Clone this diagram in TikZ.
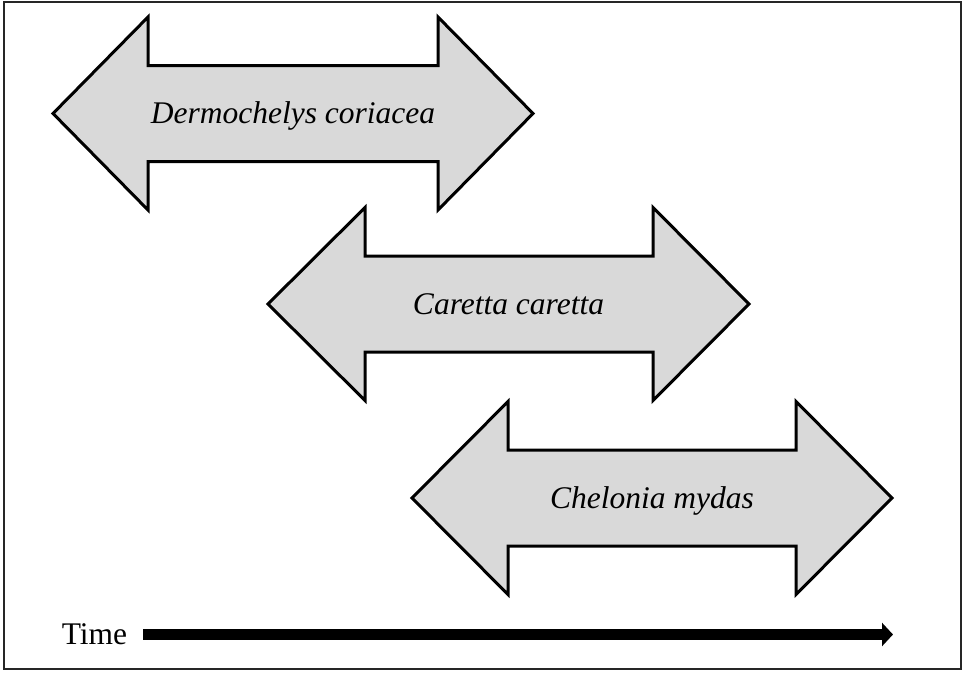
\documentclass[tikz,border=0pt]{standalone}
\usepackage{fontspec}
\setmainfont{Liberation Serif}
\usetikzlibrary{arrows.meta}
\definecolor{spanfill}{HTML}{D9D9D9}
\tikzset{
  spanshape/.style={draw=black, fill=spanfill, line width=3pt, line join=miter},
  spanlabel/.style={anchor=base, inner sep=0pt, font=\fontsize{31.5}{36}\selectfont\itshape},
  timelabel/.style={anchor=base, inner sep=0pt, font=\fontsize{31.5}{36}\selectfont},
  timearrow/.style={line width=11pt, -{Triangle[length=11pt,width=23pt]}},
  frame/.style={draw=black!85, line width=2pt}
}
\newcommand\spanarrow[7]{%
  \draw[spanshape] (#2,#6) -- (#3,#6-96.5) -- (#3,#6-48) -- (#4,#6-48) -- (#4,#6-96.5)
    -- (#5,#6) -- (#4,#6+96.5) -- (#4,#6+48) -- (#3,#6+48) -- (#3,#6+96.5) -- cycle;
  \node[spanlabel] (#1) at ({(#2+#5)/2},#6+10) {#7};%
}
\begin{document}
\begin{tikzpicture}[x=1pt,y=-1pt]
  \useasboundingbox (0,0) rectangle (964,673);
  \draw[frame] (4,1.5) rectangle (960.5,668.5);
  \spanarrow{dermo}{53}{148}{438}{533}{113.5}{Dermochelys coriacea}
  \spanarrow{caretta}{268}{365}{653}{749}{304}{Caretta caretta}
  \spanarrow{chelonia}{412}{508}{796}{892}{498}{Chelonia mydas}
  \node[timelabel] (time) at (94.5,644) {Time};
  \coordinate (tend) at (893,634.5);
  \draw[timearrow] (143,634.5) -- (tend);
\end{tikzpicture}
\end{document}
